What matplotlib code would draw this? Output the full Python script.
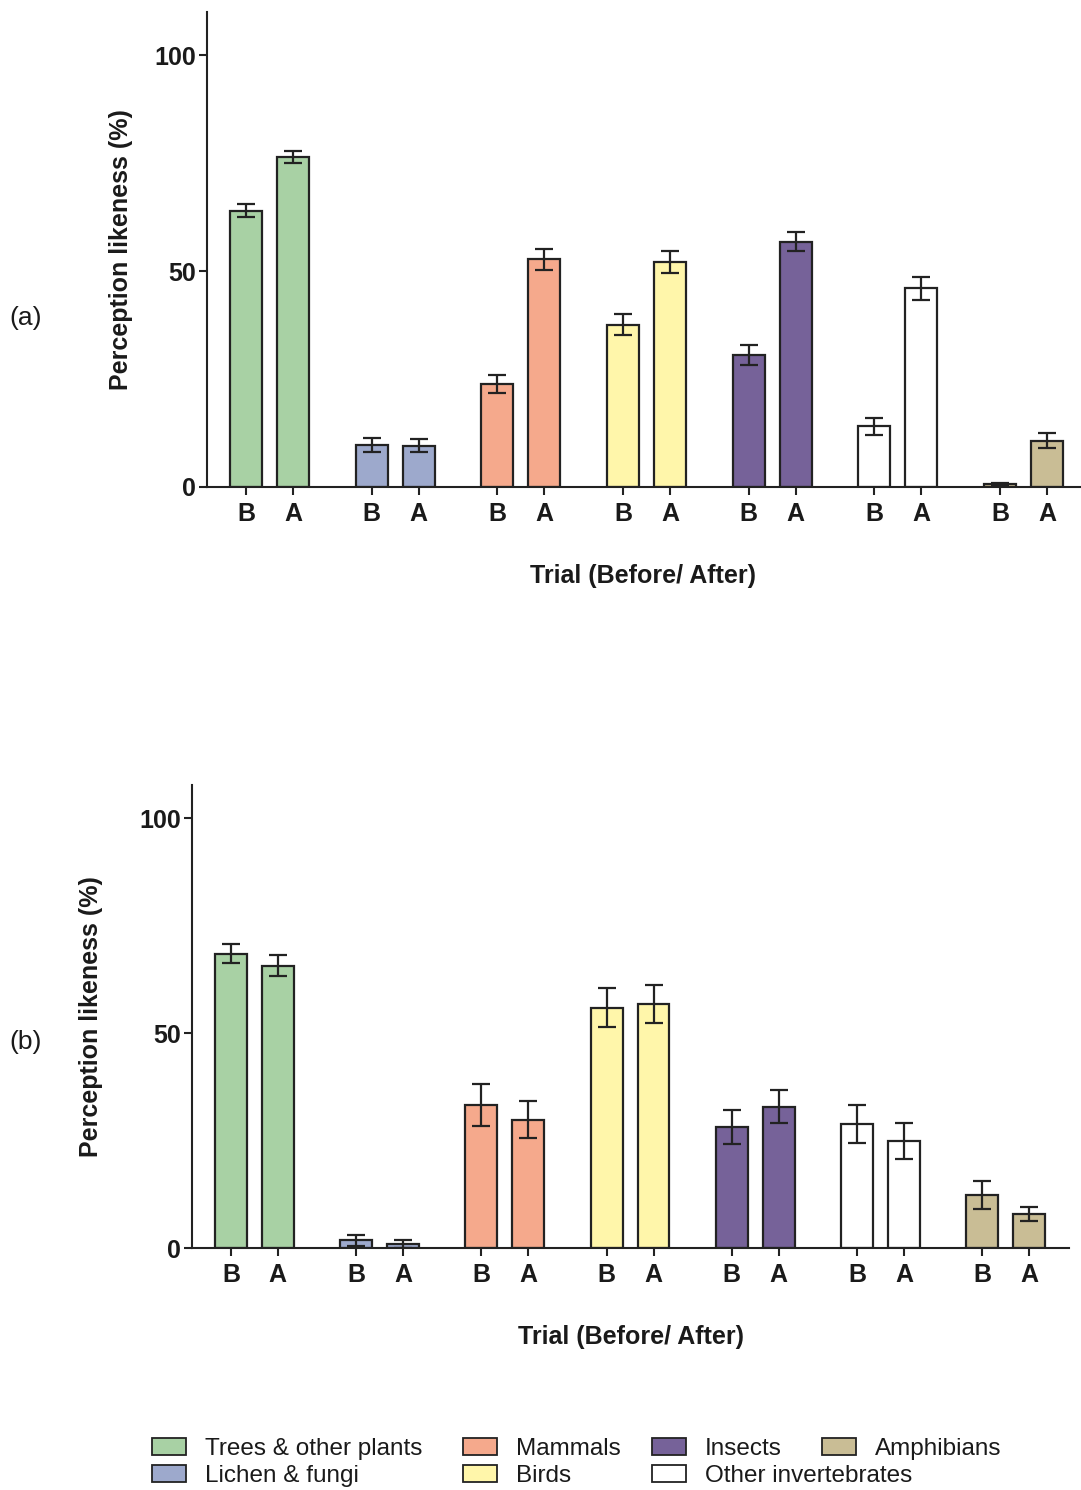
import numpy as np
import matplotlib
matplotlib.use("Agg")
import matplotlib.pyplot as plt
from matplotlib.patches import Patch
from matplotlib import font_manager as fm

# ---------------- data ----------------
categories = ["Trees & other plants", "Lichen & fungi", "Mammals", "Birds",
              "Insects", "Other invertebrates", "Amphibians"]
colors = ["#A8D1A4", "#9DA9CC", "#F5A98C", "#FFF6AA", "#766299", "#FFFFFF", "#C9BD95"]
trial_labels = ["B", "A"]

# panel (a)
a_before = [64.0, 9.8, 23.8, 37.6, 30.6, 14.0, 0.6]
a_before_err = [1.5, 1.6, 2.1, 2.4, 2.3, 1.9, 0.3]
a_after = [76.3, 9.5, 52.7, 52.1, 56.8, 46.0, 10.7]
a_after_err = [1.4, 1.5, 2.5, 2.6, 2.2, 2.6, 1.8]

# panel (b)
b_before = [68.5, 1.8, 33.3, 55.9, 28.2, 28.9, 12.4]
b_before_err = [2.3, 1.3, 4.8, 4.5, 3.9, 4.4, 3.3]
b_after = [65.7, 1.0, 29.8, 56.7, 32.9, 24.8, 7.9]
b_after_err = [2.4, 0.9, 4.3, 4.4, 3.9, 4.2, 1.7]

y_ticks = [0, 50, 100]
ylabel = "Perception likeness (%)"
xlabel = "Trial (Before/ After)"

# ---------------- fonts ----------------
available = {f.name for f in fm.fontManager.ttflist}
main_font = "Liberation Sans" if "Liberation Sans" in available else "DejaVu Sans"
if "Liberation Sans Narrow" in available:
    narrow_font, legend_size = "Liberation Sans Narrow", 20
else:
    narrow_font, legend_size = main_font, 17.5
plt.rcParams["font.family"] = [main_font, "DejaVu Sans"]

fig = plt.figure(figsize=(10.81, 14.9), dpi=100)

group_step = 2.67
bar_w = 0.68
edge = "#222222"


def draw_panel(ax, before, before_err, after, after_err, ylim_top, right_pad,
               ylabel_x, xlabel_y):
    n = len(before)
    xb = np.arange(n) * group_step
    xa = xb + 1.0
    ekw = dict(elinewidth=1.6, capthick=1.6, ecolor=edge)
    ax.bar(xb, before, bar_w, yerr=before_err, color=colors, edgecolor=edge,
           linewidth=1.6, capsize=6.5, error_kw=ekw, zorder=2)
    ax.bar(xa, after, bar_w, yerr=after_err, color=colors, edgecolor=edge,
           linewidth=1.6, capsize=6.5, error_kw=ekw, zorder=2)
    xt = np.ravel(np.column_stack([xb, xa]))
    ax.set_xticks(xt)
    ax.set_xticklabels(trial_labels * n, fontsize=18, fontweight="bold")
    ax.set_yticks(y_ticks)
    ax.set_yticklabels([str(t) for t in y_ticks], fontsize=18, fontweight="bold")
    ax.set_xlim(-0.83, xa[-1] + right_pad)
    ax.set_ylim(0, ylim_top)
    for s in ["top", "right"]:
        ax.spines[s].set_visible(False)
    for s in ["left", "bottom"]:
        ax.spines[s].set_linewidth(1.5)
        ax.spines[s].set_color(edge)
    ax.tick_params(axis="both", length=6, width=1.5, color=edge, labelcolor="#1a1a1a")
    ax.tick_params(axis="x", pad=5)
    ax.tick_params(axis="y", pad=2)
    ax.set_ylabel(ylabel, fontsize=18, fontweight="bold", color="#1a1a1a")
    ax.yaxis.set_label_coords(ylabel_x, 0.5)
    ax.set_xlabel(xlabel, fontsize=18, fontweight="bold", color="#1a1a1a")
    ax.xaxis.set_label_coords(0.5, xlabel_y)
    ax.xaxis.label.set_va("top")


ax1 = fig.add_axes([0.1915, 0.6732, 0.8075, 0.3188])
draw_panel(ax1, a_before, a_before_err, a_after, a_after_err, 110, 0.70, -0.085, -0.163)

ax2 = fig.add_axes([0.1776, 0.1624, 0.8114, 0.3107])
draw_panel(ax2, b_before, b_before_err, b_after, b_after_err, 107.7, 0.85, -0.101, -0.166)

fig.text(0.009, 1 - 318 / 1490, "(a)", fontsize=19, va="center", ha="left", color="#1a1a1a")
fig.text(0.009, 1 - 1042 / 1490, "(b)", fontsize=19, va="center", ha="left", color="#1a1a1a")

# ---------------- legend ----------------
handles = [Patch(facecolor=c, edgecolor=edge, linewidth=1.3) for c in colors]
columns = [[0, 1], [2, 3], [4, 5], [6]]
col_x = [152, 463, 652, 822]
fs_px = legend_size * 100 / 72
for idxs, px in zip(columns, col_x):
    fig.legend([handles[i] for i in idxs], [categories[i] for i in idxs],
               loc="upper left", bbox_to_anchor=(px / 1081, 1 - 1438 / 1490),
               frameon=False, borderpad=0, borderaxespad=0,
               prop=dict(family=[narrow_font, "DejaVu Sans"], size=legend_size),
               handlelength=34 / fs_px, handleheight=16 / fs_px,
               handletextpad=19 / fs_px,
               labelspacing=0.21, labelcolor="#1a1a1a")

fig.savefig("out.png", dpi=100)
